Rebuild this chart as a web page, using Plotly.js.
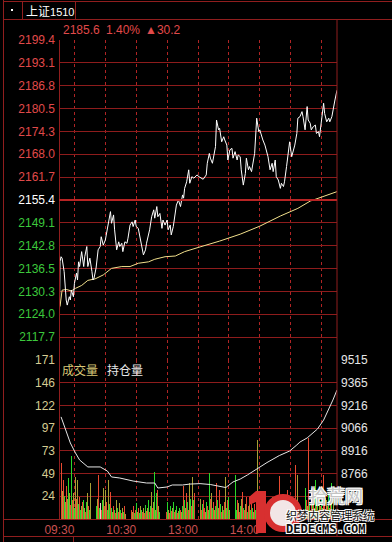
<!DOCTYPE html>
<html><head><meta charset="utf-8">
<script src="https://cdn.plot.ly/plotly-3.0.1.min.js"></script>
<style>html,body{margin:0;padding:0;background:#000;}#chart{width:392px;height:542px;}</style>
</head><body><div id="chart"></div>
<script>
// ---------------- data ----------------
const contractName = '上证';
const contractCode = '1510';
const prevClose = 2155.4;
const priceTop = 2199.4;

const priceTimes = ['09:15','09:16','09:17','09:18','09:20','09:21','09:22','09:23','09:25','09:26','09:27','09:29','09:30','09:32','09:33','09:34','09:35','09:37','09:39','09:40','09:42','09:43','09:45','09:47','09:48','09:49','09:51','09:53','09:55','09:56','09:58','10:00','10:01','10:03','10:05','10:06','10:08','10:09','10:11','10:13','10:14','10:16','10:17','10:19','10:21','10:22','10:24','10:26','10:27','10:29','10:30','10:32','10:34','10:35','10:37','10:39','10:40','10:43','10:45','10:47','10:48','10:50','10:51','10:53','10:55','10:56','10:58','11:00','11:01','11:03','11:04','11:06','11:08','11:09','11:11','11:13','11:15','11:16','11:17','11:19','11:21','11:22','11:24','11:26','11:29','13:01','13:05','13:08','13:09','13:11','13:12','13:14','13:17','13:18','13:20','13:21','13:23','13:25','13:26','13:28','13:29','13:31','13:33','13:34','13:36','13:38','13:39','13:41','13:42','13:44','13:46','13:47','13:49','13:50','13:52','13:54','13:55','13:57','13:59','14:00','14:02','14:03','14:05','14:07','14:08','14:10','14:12','14:13','14:15','14:16','14:18','14:20','14:21','14:23','14:24','14:26','14:28','14:29','14:31','14:33','14:34','14:36','14:37','14:39','14:41','14:42','14:44','14:46','14:47','14:49','14:50','14:52','14:54','14:55','14:57','14:58','15:00','15:02','15:03','15:05','15:07','15:08','15:10','15:11','15:13','15:15'];
const prices = [2112.0,2138.5,2139.8,2139.4,2135.7,2131.6,2127.9,2126.5,2128.8,2127.9,2130.6,2128.8,2132.5,2135.3,2133.4,2138.4,2137.1,2141.2,2137.1,2139.8,2142.6,2137.1,2139.4,2135.7,2133.4,2133.9,2136.7,2141.7,2142.6,2145.3,2143.0,2144.4,2146.2,2149.9,2152.2,2149.0,2151.3,2147.2,2141.7,2143.9,2142.6,2143.5,2141.2,2143.9,2143.5,2144.9,2148.5,2149.4,2148.1,2149.9,2148.1,2147.6,2144.4,2142.6,2140.3,2141.7,2143.5,2147.2,2150.8,2152.7,2150.4,2153.6,2150.8,2151.7,2147.6,2149.9,2148.5,2149.9,2147.2,2148.5,2145.8,2148.1,2151.7,2154.0,2155.4,2153.6,2156.8,2155.9,2158.6,2160.4,2163.7,2160.0,2161.8,2161.4,2162.3,2161.8,2161.1,2162.3,2165.5,2168.2,2166.9,2165.5,2170.1,2177.4,2174.7,2175.1,2171.4,2172.8,2171.9,2170.5,2166.4,2169.2,2169.6,2166.9,2168.7,2166.4,2167.8,2167.3,2163.7,2159.5,2162.7,2166.9,2163.7,2164.6,2163.2,2166.4,2168.2,2177.9,2174.2,2174.7,2172.4,2171.9,2170.5,2168.7,2167.3,2163.7,2165.5,2163.2,2166.4,2161.8,2160.9,2158.6,2160.0,2159.1,2160.4,2164.6,2170.5,2171.4,2167.3,2169.6,2170.5,2173.7,2177.9,2178.3,2179.7,2178.3,2174.7,2181.1,2177.4,2176.5,2174.7,2175.6,2176.0,2173.7,2174.2,2172.8,2176.9,2182.0,2179.2,2176.9,2177.9,2176.9,2178.3,2180.2,2182.9,2185.6];

const avgTimes = ['09:16','09:17','09:18','09:22','09:27','09:31','09:37','09:43','09:50','09:58','10:06','10:16','10:24','10:32','10:42','10:48','10:58','11:08','11:14','11:17','13:02','13:21','13:41','14:00','14:20','14:37','14:49','15:02','15:15'];
const avgPrices = [2126.1,2129.5,2130.6,2130.8,2130.4,2131.1,2131.9,2133.3,2133.7,2134.8,2136.6,2137.1,2137.1,2138.0,2138.4,2139.1,2139.8,2140.0,2140.7,2141.2,2142.5,2144.1,2146.0,2148.2,2151.0,2153.1,2155.1,2156.3,2157.7];

const oiTimes = ['09:17','09:21','09:26','09:31','09:35','09:43','09:55','10:02','10:06','10:14','10:27','10:40','10:48','10:51','11:00','11:05','11:15','11:22','13:02','13:12','13:21','13:27','13:34','13:41','13:48','13:57','14:07','14:19','14:29','14:36','14:39','14:46','14:56','15:02','15:08','15:11','15:15'];
const oiValues = [9140,9067,8968,8902,8856,8810,8810,8783,8744,8737,8717,8704,8704,8671,8678,8691,8691,8697,8700,8694,8684,8674,8711,8730,8757,8796,8839,8885,8915,8955,8974,9001,9060,9119,9205,9251,9317];

// one volume bar per trading minute, starting 09:15
const volumes = [171,70,60,30,42,25,18,35,22,44, 28,15,68,20,28,12,45,22,42,16, 24,10,14,18,20,12,8,18,28,14, 10,39,16,20,12,8,14,22,47,12,
 17,10,20,33,14,31,18,10,42,16, 29,12,8,14,10,6,20,12,8,17, 10,6,12,8,14,5,9,12,7,22, 10,8,14,6,10,17,8,12,6,14,
 10,8,12,6,15,9,12,20,8,14, 29,12,18,51,10,28,31,14,8,17, 12,24,9,14,8,18,10,6,14,9, 12,18,8,10,14,6,9,12,10,8,
 14,35,20,12,28,18,10,39,22,14, 45,20,28,12,18,45,14,22,10,16, 20,12,8,18,14,10,49,22,28,12, 18,10,14,39,20,12,31,16,8,14,
 10,18,45,12,20,24,10,14,28,12, 16,47,10,20,17,8,14,22,29,12, 10,16,24,8,14,18,10,24,12,8, 16,10,20,85,14,22,10,20,12,8,
 14,10,13,6,18,12,8,24,14,10, 17,8,12,22,46,10,16,12,20,14, 10,18,31,12,20,14,24,10,16,22, 58,18,47,14,20,87,16,24,12,33,
 20,14,87,18,10,28,16,22,12,42, 18,24,10,29,14,20,12,47,16,10, 20,14,26,12,18,39,10,22,16,56, 30];
// bar colour code per minute: r = up, g = down, y = mixed, w = flat
const volDir = ('gyryrgyryg yrgrygyryg rgyrgyrgyr gyrgyrgyrg wrgyryrgyg rgyrgrygry grygrygryg ryrgrgyrgy gryrgrygrgy' +
 ' rygygrygry gryrgyrgry grygrygryg rgyrgrygry gryrrgyrgr rygrygrygr ygrgyrgryg rygrgyrgry ggryrgyrgr yrgrygrgyr' +
 ' grygryrgry grygrygryr rgyrgrygry grgyrgrygr ryrgygrygr yrgyrgrygr gryrgyrrgy rgyrgrygrr r').replace(/ /g,'');

const priceTickText = ['','2117.7','2124.0','2130.3','2136.5','2142.8','2149.1','2155.4','2161.7','2168.0','2174.3','2180.5','2186.8','2193.1','2199.4'];
const pctTickText = ['','1.75%','1.46%','1.17%','0.87%','0.58%','0.29%','0.00%','0.29%','0.58%','0.87%','1.17%','1.46%','1.75%','2.04%'];
const volTickText = ['','24','49','73','97','122','146','171'];
const oiTickText = ['','','8766','8916','9066','9216','9365','9515'];
const volTop = 171;
const oiRange = [8466.75, 9515];
const timeTickVals = ['09:30','10:00','10:30','11:00','13:00','13:30','14:00','14:30','15:00'];
const timeTickText = ['09:30','','10:30','','13:00','','14:00','',''];

// ---------------- helpers ----------------
function tIdx(t){const [h,m]=t.split(':').map(Number);const v=h*60+m;return v<=690? v-555 : v-780+135;}
const W=392,H=542;
const px=x=>x/W, py=y=>1-y/H;
const RED='#e04a4a', GREEN='#3cc83c', WHITE='#ffffff';
const GRID='#8e1c1c', FRAME='#901e1e';

const half = priceTop - prevClose;
const priceTickVals = []; for(let k=-7;k<=7;k++) priceTickVals.push(prevClose + k*half/7);
const colorSpan=(t,c)=>'<span style="color:'+c+'">'+t+'</span>';
const pTT = priceTickText.map((t,i)=>colorSpan(t, i<7?GREEN:(i===7?WHITE:RED)));
const pcTT = pctTickText.map((t,i)=>colorSpan(t, i<7?GREEN:(i===7?WHITE:RED)));
const volTickVals=[]; for(let k=0;k<=7;k++) volTickVals.push(k*volTop/7);
const oiTickVals=[]; for(let k=0;k<=7;k++) oiTickVals.push(oiRange[0]+k*(oiRange[1]-oiRange[0])/7);

const dirColor={r:'#e84a30',g:'#2ad82a',y:'#a8a034',w:'#f0d0d0'};
const volX = volumes.map((v,i)=>i);
const volC = volumes.map((v,i)=>dirColor[volDir[i]]||dirColor.y);

const last = prices[prices.length-1];
const chg = last - prevClose;
const pct = chg/prevClose*100;

const font='Liberation Sans, Arial, sans-serif';
const cjk='Noto Sans CJK SC, sans-serif';

const traces = [
 {type:'bar', x:volX, y:volumes, xaxis:'x2', yaxis:'y2', width:0.85, marker:{color:volC, line:{width:0}}, hoverinfo:'skip'},
 {type:'scatter', mode:'lines', x:oiTimes.map(tIdx), y:oiValues, xaxis:'x2', yaxis:'y3', line:{color:'#e6e6e6', width:1}, hoverinfo:'skip'},
 {type:'scatter', mode:'lines', x:avgTimes.map(tIdx), y:avgPrices, xaxis:'x', yaxis:'y', line:{color:'#f2e08c', width:1}, hoverinfo:'skip'},
 {type:'scatter', mode:'lines', x:priceTimes.map(tIdx), y:prices, xaxis:'x', yaxis:'y', line:{color:'#ffffff', width:1}, hoverinfo:'skip'}
];

const xDom=[px(59),px(337)];
const baseX = {domain:xDom, range:[0,270], showline:false, zeroline:false, showgrid:true, gridcolor:'#b02424', griddash:'dot', gridwidth:1,
  tickvals:timeTickVals.map(tIdx), ticks:'', fixedrange:true};
const layout = {
 width:W, height:H, margin:{l:0,r:0,t:0,b:0}, paper_bgcolor:'#000', plot_bgcolor:'#000', showlegend:false, bargap:0,
 xaxis:Object.assign({}, baseX, {anchor:'y', showticklabels:false}),
 xaxis2:Object.assign({}, baseX, {anchor:'y2', matches:'x', ticktext:timeTickText, showticklabels:true, ticklabelshift:-15, ticklabelstandoff:2,
   tickfont:{family:font,size:12,color:'#c85050'}}),
 yaxis:{domain:[py(360),py(40)], range:[prevClose-half, priceTop], anchor:'x', side:'left', tickvals:priceTickVals, ticktext:pTT,
   showgrid:true, gridcolor:GRID, gridwidth:1, zeroline:false, showline:false, ticks:'', tickfont:{family:font,size:12,color:RED}, ticklabelstandoff:3, fixedrange:true},
 yaxis4:{overlaying:'y', anchor:'x', side:'right', range:[prevClose-half, priceTop], tickvals:priceTickVals, ticktext:pcTT,
   showgrid:false, zeroline:false, showline:false, ticks:'', tickfont:{family:font,size:12,color:RED}, ticklabelstandoff:3, fixedrange:true},
 yaxis2:{domain:[py(519),py(360)], range:[0,volTop], anchor:'x2', side:'left', tickvals:volTickVals, ticktext:volTickText,
   showgrid:true, gridcolor:GRID, gridwidth:1, zeroline:false, showline:false, ticks:'', tickfont:{family:font,size:12,color:'#d6cc92'}, ticklabelstandoff:3, fixedrange:true},
 yaxis3:{overlaying:'y2', anchor:'x2', side:'right', range:oiRange, tickvals:oiTickVals, ticktext:oiTickText,
   showgrid:false, zeroline:false, showline:false, ticks:'', tickfont:{family:font,size:12,color:'#e6e6e6'}, ticklabelstandoff:3, fixedrange:true},
 shapes:[],
 annotations:[]
};
const L=(x0,y0,x1,y1,c,w)=>layout.shapes.push({type:'line',xref:'paper',yref:'paper',x0:px(x0),y0:py(y0),x1:px(x1),y1:py(y1),line:{color:c||FRAME,width:w||1}});
L(3,1.5,392,1.5); L(3,19.5,392,19.5); L(3.5,0,3.5,542); L(22.5,1.5,22.5,19.5); L(75.5,1.5,75.5,19.5);
L(337,19.5,337,536); L(59.5,40,59.5,519); L(3,519.5,392,519.5); L(3,536.5,392,536.5); L(73.5,536.5,73.5,542);
layout.shapes.push({type:'line',xref:'x',yref:'y',x0:0,x1:270,y0:prevClose,y1:prevClose,line:{color:'#b82424',width:2}});
layout.shapes.push({type:'rect',xref:'paper',yref:'paper',x0:px(11),x1:px(13),y0:py(11),y1:py(9),fillcolor:'#ffffff',line:{width:0}});

const A=(text,x,y,opts)=>layout.annotations.push(Object.assign({text:text,xref:'paper',yref:'paper',x:px(x),y:py(y),xanchor:'left',yanchor:'middle',showarrow:false,
  font:{family:font,size:12,color:WHITE}},opts||{}));
A(contractName+'<span style="font-family:Liberation Sans;font-size:11px">'+contractCode+'</span>',24,10.5,{font:{family:cjk,size:12,color:WHITE}});
A(last.toFixed(1),61,30,{font:{family:font,size:12,color:RED}});
A(pct.toFixed(2)+'%',104,30,{font:{family:font,size:12,color:RED}});
A('▲'+chg.toFixed(1),143,30,{font:{family:font,size:12,color:RED}});
A('成交量',60,369,{font:{family:cjk,size:12,color:'#d8c878'}});
A('持仓量',105,369,{font:{family:cjk,size:12,color:'#e8e8e8'}});

// watermark logo (graphic "10": a red "1" and a red ring)
const P=(pts)=>'M'+pts.map(p=>px(p[0])+','+py(p[1])).join(' L')+' Z';
layout.shapes.push({type:'path',xref:'paper',yref:'paper',path:P([[256,491],[266,491],[266,533],[256,533],[256,502],[249,505],[249,497]]),fillcolor:'#d83030',line:{width:0}});
layout.shapes.push({type:'circle',xref:'paper',yref:'paper',x0:px(267),x1:px(299),y0:py(529),y1:py(497),fillcolor:'#f2e6e6',line:{color:'#d83030',width:6}});
const outline='-1px -1px 0 #fff, 1px -1px 0 #fff, -1px 1px 0 #fff, 1px 1px 0 #fff';
A('拾荒网',307,495,{font:{family:cjk,size:18,color:'#c4c4c4',shadow:outline}});
A('织梦内容管理系统',284,515,{font:{family:cjk,size:11,color:'#111',shadow:outline}});
A('DEDECMS.COM',284,529,{font:{family:'DejaVu Sans Mono',size:12,color:'#111',weight:'bold',shadow:outline}});

Plotly.newPlot('chart', traces, layout, {staticPlot:true, displayModeBar:false});
</script></body></html>
